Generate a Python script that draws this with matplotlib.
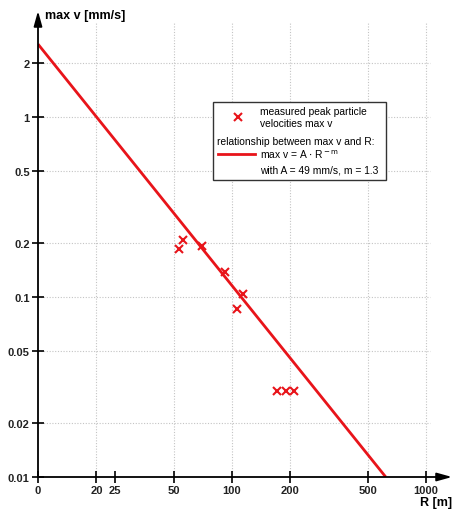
import matplotlib
matplotlib.use("Agg")
import matplotlib.pyplot as plt
from matplotlib.lines import Line2D
from matplotlib.patches import Rectangle

plt.rcParams['font.family'] = ['Liberation Sans', 'DejaVu Sans']

# data
meas_R = [53.5, 56.1, 70.3, 91.6, 113.5, 106.4, 170, 190, 209]
meas_v = [0.185, 0.208, 0.193, 0.138, 0.104, 0.086, 0.030, 0.030, 0.030]
fit_R = [10, 620]
fit_v = [2.54, 0.01]

x_ticks = [10, 20, 25, 50, 100, 200, 500, 1000]
x_labels = ['0', '20', '25', '50', '100', '200', '500', '1000']
x_grid = [20, 50, 100, 200, 500, 1000]
y_ticks = [0.01, 0.02, 0.05, 0.1, 0.2, 0.5, 1, 2]
y_labels = ['0.01', '0.02', '0.05', '0.1', '0.2', '0.5', '1', '2']

W, H = 455, 510
fig = plt.figure(figsize=(W/100, H/100), dpi=100)
ax = fig.add_axes([38/W, (H-478)/H, 414/W, 466/H])
ax.set_xscale('log')
ax.set_yscale('log')
ax.set_xlim(10, 1361)
ax.set_ylim(0.01, 3.88)

for s in ax.spines.values():
    s.set_visible(False)

# grid
for gx in x_grid:
    ax.plot([gx, gx], [0.01, 3.37], color='#c4c4c4', lw=0.8, ls=(0, (1, 1.5)), zorder=1)
for gy in y_ticks[1:]:
    ax.plot([10, 1050], [gy, gy], color='#c4c4c4', lw=0.8, ls=(0, (1, 1.5)), zorder=1)

ax.set_xticks(x_ticks)
ax.set_xticklabels(x_labels)
ax.set_yticks(y_ticks)
ax.set_yticklabels(y_labels)
ax.minorticks_off()
ax.tick_params(axis='both', direction='inout', length=8, width=1.2, color='black',
               labelsize=8)
for lab in ax.get_xticklabels() + ax.get_yticklabels():
    lab.set_fontweight('bold')
    lab.set_color('#222222')
ax.tick_params(axis='x', pad=2)
ax.tick_params(axis='y', pad=2)

# axes arrows
ax.annotate('', xy=(0, 1), xytext=(0, 0), xycoords='axes fraction',
            arrowprops=dict(arrowstyle='-|>,head_length=0.9,head_width=0.25', color='black',
                            lw=1.3, shrinkA=0, shrinkB=0), zorder=5)
ax.annotate('', xy=(1, 0), xytext=(0, 0), xycoords='axes fraction',
            arrowprops=dict(arrowstyle='-|>,head_length=0.9,head_width=0.25', color='black',
                            lw=1.3, shrinkA=0, shrinkB=0), zorder=5)

ax.plot(fit_R, fit_v, color='#e8141a', lw=2.0, zorder=3, solid_capstyle='butt')
ax.plot(meas_R, meas_v, ls='none', marker='x', color='#e8141a', ms=5.5, mew=1.5, zorder=4)

fig.text(45/W, 1 - 16/H, 'max v [mm/s]', fontsize=9, fontweight='bold', va='center', ha='left')
fig.text(452/W, 1 - 503/H, 'R [m]', fontsize=9, fontweight='bold', va='center', ha='right')

# legend box
fig.patches.append(Rectangle((213/W, 1 - 181/H), 173/W, 78/H, transform=fig.transFigure,
                             facecolor='white', edgecolor='#333333', lw=1.0, zorder=6))
fig.lines.append(Line2D([238/W], [1 - 118/H], marker='x', color='#e8141a', ms=5.5, mew=1.5,
                        transform=fig.transFigure, zorder=7))
fig.lines.append(Line2D([218/W, 255/W], [1 - 155/H, 1 - 155/H], color='#e8141a', lw=2.0,
                        transform=fig.transFigure, zorder=7))
fs = 7.4
fig.text(260/W, 1 - 112/H, 'measured peak particle', fontsize=fs, va='center', zorder=8)
fig.text(260/W, 1 - 124/H, 'velocities max v', fontsize=fs, va='center', zorder=8)
fig.text(217/W, 1 - 142/H, 'relationship between max v and R:', fontsize=fs, va='center', zorder=8)
fig.text(260/W, 1 - 155/H, r'max v = A $\cdot$ R$^{\,\mathrm{-\,m}}$', fontsize=fs, va='center', zorder=8)
fig.text(260/W, 1 - 171/H, 'with A = 49 mm/s, m = 1.3', fontsize=fs, va='center', zorder=8)

fig.savefig('out.png', dpi=100)
